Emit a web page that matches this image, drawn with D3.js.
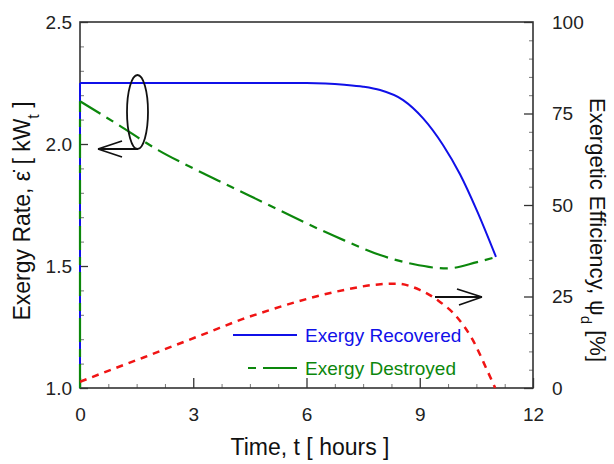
<!DOCTYPE html>
<html>
<head>
<meta charset="utf-8">
<script src="https://cdn.jsdelivr.net/npm/d3@7"></script>
<style>
  body { margin: 0; background: #fff; }
  svg { display: block; font-family: "Liberation Sans", Arial, sans-serif; }
</style>
</head>
<body>
<div id="chart"></div>
<script>
// time axis in hours, left axis exergy rate (kW), right axis efficiency (%)
// both exergy curves rise vertically from the axis floor at t = 0
const axisFloor = 1.0;

const recoveredT = [0, 3, 6, 6.5, 7, 7.5, 7.95, 8.56, 9.09, 9.62, 10.07, 10.52, 11.02];
const recoveredV = [2.25, 2.25, 2.25, 2.248, 2.243, 2.235, 2.221, 2.18, 2.105, 1.995, 1.875, 1.725, 1.537];

const destroyedT = [0, 1, 2.07, 3, 4, 5, 6, 7, 7.95, 8.82, 9.72, 10.52, 11.02];
const destroyedV = [2.175, 2.08, 1.975, 1.9, 1.825, 1.75, 1.675, 1.605, 1.545, 1.508, 1.49, 1.516, 1.537];

const efficiencyT = [0, 0.8, 1.7, 2.5, 3.4, 4.3, 5, 6, 7, 7.9, 8.4, 9.0, 9.5, 10.0, 10.4, 10.8, 11.0];
const efficiencyV = [1.7, 4.9, 8.4, 11.6, 15.2, 18.8, 21.2, 24.3, 26.8, 28.3, 28.5, 26.8, 23.8, 19.2, 13.2, 4.5, 0];

const xTicks = [0, 3, 6, 9, 12];
const leftTicks = [1.0, 1.5, 2.0, 2.5];
const rightTicks = [0, 25, 50, 75, 100];
const legendLabels = ['Exergy Recovered', 'Exergy Destroyed'];

const margin = {top: 22, right: 81, bottom: 76, left: 80};
const W = 614, H = 464;
const width = W - margin.left - margin.right;
const height = H - margin.top - margin.bottom;

const svg = d3.select('#chart').append('svg')
    .attr('width', W)
    .attr('height', H);

const g = svg.append('g')
    .attr('transform', `translate(${margin.left},${margin.top})`);

const x = d3.scaleLinear().domain([0, 12]).range([0, width]);
const yL = d3.scaleLinear().domain([1.0, 2.5]).range([height, 0]);
const yR = d3.scaleLinear().domain([0, 100]).range([height, 0]);

const zip = (a, b) => a.map((t, i) => [t, b[i]]);

// minor ticks first (lighter)
g.append('g')
    .attr('transform', `translate(0,${height})`)
    .call(d3.axisBottom(x).tickValues(d3.range(0, 12.01, 0.75).filter(v => v % 3 !== 0)).tickSize(-4).tickFormat(''))
    .call(a => a.select('.domain').remove())
    .call(a => a.selectAll('line').attr('stroke', '#777'));

g.append('g')
    .call(d3.axisLeft(yL).tickValues(d3.range(1.1, 2.5, 0.1).filter(v => Math.abs(v * 2 - Math.round(v * 2)) > 0.01)).tickSize(-4).tickFormat(''))
    .call(a => a.select('.domain').remove())
    .call(a => a.selectAll('line').attr('stroke', '#777'));

g.append('g')
    .attr('transform', `translate(${width},0)`)
    .call(d3.axisRight(yR).tickValues(d3.range(5, 100, 5).filter(v => v % 25 !== 0)).tickSize(-4).tickFormat(''))
    .call(a => a.select('.domain').remove())
    .call(a => a.selectAll('line').attr('stroke', '#777'));

// major ticks with labels
const styleAxis = a => {
    a.select('.domain').remove();
    a.selectAll('line').attr('stroke', '#333').attr('stroke-width', 1.3);
    a.selectAll('text').attr('fill', '#222').style('font-size', '19px')
        .style('font-family', '"Liberation Sans", Arial, sans-serif');
};

g.append('g')
    .attr('transform', `translate(0,${height})`)
    .call(d3.axisBottom(x).tickValues(xTicks).tickSize(-10).tickPadding(20).tickFormat(d3.format('d')))
    .call(styleAxis);

g.append('g')
    .call(d3.axisLeft(yL).tickValues(leftTicks).tickSize(-8).tickPadding(8).tickFormat(d3.format('.1f')))
    .call(styleAxis);

g.append('g')
    .attr('transform', `translate(${width},0)`)
    .call(d3.axisRight(yR).tickValues(rightTicks).tickSize(-9).tickPadding(19).tickFormat(d3.format('d')))
    .call(styleAxis);

// frame
g.append('rect')
    .attr('width', width)
    .attr('height', height)
    .attr('fill', 'none')
    .attr('stroke', '#333')
    .attr('stroke-width', 1.6);

// curves
const lineL = d3.line().x(d => x(d[0])).y(d => yL(d[1])).curve(d3.curveMonotoneX);
const lineR = d3.line().x(d => x(d[0])).y(d => yR(d[1])).curve(d3.curveMonotoneX);
const riser = d3.line().x(d => x(d[0])).y(d => yL(d[1]));

const series = [
    {t: recoveredT, v: recoveredV, color: '#1010e8', width: 2, dash: null},
    {t: destroyedT, v: destroyedV, color: '#0c870c', width: 2.2, dash: '24,7,8,7'}
];

series.forEach(s => {
    g.append('path')
        .datum([[s.t[0], axisFloor], [s.t[0], s.v[0]]])
        .attr('fill', 'none')
        .attr('stroke', s.color)
        .attr('stroke-width', s.width)
        .attr('stroke-dasharray', s.dash)
        .attr('d', riser);
    g.append('path')
        .datum(zip(s.t, s.v))
        .attr('fill', 'none')
        .attr('stroke', s.color)
        .attr('stroke-width', s.width)
        .attr('stroke-dasharray', s.dash)
        .attr('d', lineL);
});

g.append('path')
    .datum(zip(efficiencyT, efficiencyV))
    .attr('fill', 'none')
    .attr('stroke', '#f01414')
    .attr('stroke-width', 2.5)
    .attr('stroke-dasharray', '7,6')
    .attr('d', lineR);

// annotation: ellipse with arrow pointing to left axis
const ann = svg.append('g').attr('fill', 'none').attr('stroke', '#111').attr('stroke-width', 1.8);
ann.append('ellipse').attr('cx', 137.5).attr('cy', 112).attr('rx', 10.5).attr('ry', 37);
ann.append('path').attr('d', 'M138,149 L98,149 M98,149 L122,141 M98,149 L122,157');
// arrow pointing to right axis
ann.append('path').attr('d', 'M435,297 L482,297 M482,297 L457,289 M482,297 L459,305');

// legend
const legendColors = ['#1010e8', '#0c870c'];
const legendDash = [null, '8,7,30,0'];
const legend = svg.append('g').attr('transform', 'translate(233,335)');
legendLabels.forEach((lbl, i) => {
    const row = legend.append('g').attr('transform', `translate(0,${i * 33})`);
    row.append('line')
        .attr('x1', i === 0 ? 0 : 15).attr('x2', 64)
        .attr('stroke', legendColors[i])
        .attr('stroke-width', 2.2)
        .attr('stroke-dasharray', legendDash[i]);
    row.append('text')
        .attr('x', 72)
        .attr('dy', '0.35em')
        .attr('fill', legendColors[i])
        .style('font-size', '19px')
        .text(lbl);
});

// axis titles
svg.append('text')
    .attr('x', 310)
    .attr('y', 455)
    .attr('text-anchor', 'middle')
    .attr('fill', '#111')
    .style('font-size', '23px')
    .text('Time, t [ hours ]');

const lt = svg.append('text')
    .attr('transform', 'translate(30,211) rotate(-90)')
    .attr('text-anchor', 'middle')
    .attr('fill', '#111')
    .style('font-size', '23px');
lt.append('tspan').text('Exergy Rate, \u03B5\u0307 [ kW');
lt.append('tspan').attr('baseline-shift', 'sub').style('font-size', '16px').text('t');
lt.append('tspan').text(' ]');

const rt = svg.append('text')
    .attr('transform', 'translate(590,230) rotate(90)')
    .attr('text-anchor', 'middle')
    .attr('fill', '#111')
    .style('font-size', '22px');
rt.append('tspan').text('Exergetic Efficiency, \u03C8');
rt.append('tspan').attr('baseline-shift', 'sub').style('font-size', '15px').text('d');
rt.append('tspan').text(' [%]');
</script>
</body>
</html>
